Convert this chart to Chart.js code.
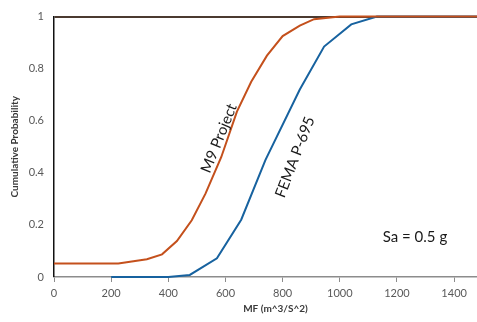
<!DOCTYPE html>
<html>
<head>
<meta charset="utf-8">
<script src="https://cdn.jsdelivr.net/npm/chart.js@4/dist/chart.umd.min.js"></script>
<style>
  html, body { margin: 0; padding: 0; background: #ffffff; }
  #wrap { width: 477px; height: 322px; }
</style>
</head>
<body>
<div id="wrap"><canvas id="c" width="477" height="322"></canvas></div>
<script>
// Cumulative distributions of MF for Sa = 0.5 g
const m9MF     = [0, 225, 325, 378, 430, 482, 530, 585, 640, 690, 745, 800, 860, 910, 1000, 1480];
const m9Prob   = [0.052, 0.052, 0.068, 0.087, 0.138, 0.218, 0.32, 0.46, 0.635, 0.75, 0.85, 0.925, 0.965, 0.99, 1.0, 1.0];
const femaMF   = [200, 400, 475, 570, 655, 740, 860, 945, 1040, 1130, 1480];
const femaProb = [0, 0, 0.008, 0.072, 0.22, 0.45, 0.72, 0.885, 0.97, 1.0, 1.0];

const xTicks = [0, 200, 400, 600, 800, 1000, 1200, 1400];
const yTicks = [0, 0.2, 0.4, 0.6, 0.8, 1];

const seriesLabels = ['M9 Project', 'FEMA P-695'];
const caseLabel = 'Sa = 0.5 g';
const xTitle = 'MF (m^3/S^2)';
const yTitle = 'Cumulative Probability';

const toPoints = (xs, ys) => xs.map((x, i) => ({ x: x, y: ys[i] }));

// text placed in data coordinates: [text, x, y, rotation in degrees]
const notes = [
  [seriesLabels[0], 577, 0.533, -68],
  [seriesLabels[1], 843, 0.46, -69],
  [caseLabel, 1263, 0.153, 0]
];

const notePlugin = {
  id: 'notes',
  afterDatasetsDraw(chart) {
    const { ctx, scales } = chart;
    ctx.save();
    ctx.fillStyle = '#1a1a1a';
    ctx.textAlign = 'center';
    ctx.textBaseline = 'middle';
    notes.forEach(([t, x, y, rot]) => {
      ctx.save();
      ctx.translate(scales.x.getPixelForValue(x), scales.y.getPixelForValue(y));
      ctx.rotate(rot * Math.PI / 180);
      ctx.font = '15px Lato';
      ctx.fillText(t, 0, 0);
      ctx.restore();
    });
    // x axis title
    ctx.font = 'bold 10px Lato';
    ctx.fillStyle = '#3a3a3a';
    ctx.fillText(xTitle, scales.x.getPixelForValue(775), 309);
    ctx.restore();
  }
};

new Chart(document.getElementById('c'), {
  type: 'scatter',
  data: {
    datasets: [
      {
        label: seriesLabels[0],
        data: toPoints(m9MF, m9Prob),
        showLine: true,
        borderColor: '#c4501c',
        borderWidth: 2,
        pointRadius: 0,
        tension: 0,
        clip: false
      },
      {
        label: seriesLabels[1],
        data: toPoints(femaMF, femaProb),
        showLine: true,
        borderColor: '#17629f',
        borderWidth: 2,
        pointRadius: 0,
        tension: 0,
        clip: false
      }
    ]
  },
  options: {
    responsive: false,
    animation: false,
    devicePixelRatio: 1,
    layout: { padding: { top: 16, right: 0, left: 0, bottom: 0 } },
    plugins: {
      legend: { display: false },
      tooltip: { enabled: false }
    },
    scales: {
      x: {
        type: 'linear',
        min: 0,
        max: 1480,
        afterBuildTicks: s => { s.ticks = xTicks.map(v => ({ value: v })); },
        afterFit: s => { s.height = 45; },
        ticks: {
          color: '#595959',
          font: { family: 'Lato', size: 11 },
          padding: 5,
          maxRotation: 0,
          callback: v => String(v)
        },
        grid: {
          drawOnChartArea: false,
          drawTicks: true,
          tickLength: 5,
          color: '#8c8c8c',
          lineWidth: 1
        },
        border: { color: '#8c8c8c', width: 1.5 }
      },
      y: {
        type: 'linear',
        min: 0,
        max: 1,
        afterBuildTicks: s => { s.ticks = yTicks.map(v => ({ value: v })); },
        afterFit: s => { s.width = 54; },
        ticks: {
          color: '#595959',
          font: { family: 'Lato', size: 11 },
          padding: 10,
          callback: v => String(Math.round(v * 10) / 10)
        },
        grid: {
          drawTicks: false,
          color: c => (c.tick && c.tick.value === 1 ? '#4b3a30' : 'rgba(0,0,0,0)'),
          lineWidth: c => (c.tick && c.tick.value === 1 ? 2 : 0)
        },
        border: { color: '#111111', width: 1.5 },
        title: {
          display: true,
          text: yTitle,
          color: '#3a3a3a',
          font: { family: 'Lato', size: 10, weight: 'bold' },
          padding: { top: 9, bottom: 0 }
        }
      }
    }
  },
  plugins: [notePlugin]
});
</script>
</body>
</html>
